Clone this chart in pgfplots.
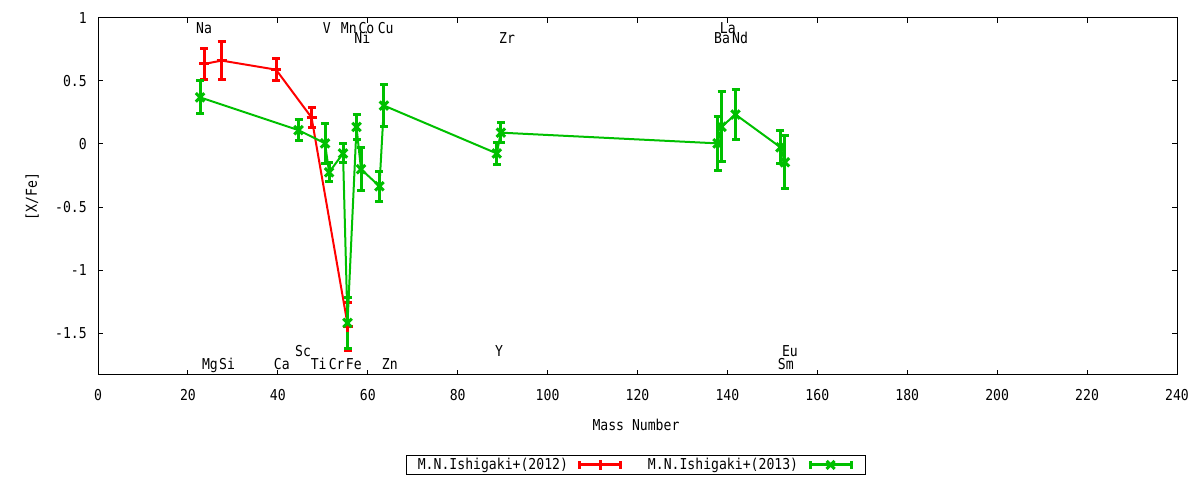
\documentclass[border=0pt]{standalone}
\usepackage{fontspec}
\setmainfont{DejaVu Sans Mono}[FakeStretch=0.875]
\usepackage{pgfplots}
\usepackage{pgfplotstable}
\pgfplotsset{compat=1.18}
\definecolor{gpred}{RGB}{255,0,0}
\definecolor{gpgreen}{RGB}{0,192,0}
\newcommand\gf{\fontsize{15bp}{17bp}\selectfont}

\pgfplotstableread{
x y e
23.6 0.635 0.12
27.5 0.662 0.15
39.6 0.59 0.085
47.5 0.21 0.08
55.6 -1.45 0.19
}\redtab

\pgfplotstableread{
x y e
22.7 0.37 0.13
44.6 0.11 0.085
50.5 0.005 0.16
51.4 -0.225 0.075
54.5 -0.075 0.075
55.5 -1.42 0.2
57.5 0.135 0.1
58.5 -0.2 0.17
62.6 -0.335 0.12
63.6 0.305 0.165
88.7 -0.075 0.09
89.6 0.09 0.08
137.8 0.005 0.217
138.7 0.137 0.278
141.8 0.234 0.2
151.8 -0.026 0.13
152.8 -0.145 0.21
}\greentab

\begin{document}
\begin{tikzpicture}
\useasboundingbox (0,0) rectangle (1200bp,480bp);
\begin{axis}[
  at={(98bp,105bp)}, anchor=south west,
  scale only axis, width=1079bp, height=357bp,
  xmin=0, xmax=240, ymin=-1.8333, ymax=1,
  xtick={0,20,40,60,80,100,120,140,160,180,200,220,240},
  xticklabels={0,20,40,60,80,100,120,140,160,180,200,220,240},
  ytick={-1.5,-1,-0.5,0,0.5,1},
  yticklabels={-1.5,-1,-0.5,0,0.5,1},
  tick align=inside, major tick length=5bp,
  axis line style={line width=1bp},
  tick style={line width=1bp, black},
  ticklabel style={font=\gf},
  xticklabel style={anchor=base, inner sep=0pt, yshift=-25.5bp},
  yticklabel style={anchor=east, inner sep=0pt, xshift=-11bp},
  xlabel={Mass Number}, ylabel={[X/Fe]},
  label style={font=\gf},
  xlabel style={at={(axis description cs:0.4986,-0.14)}, anchor=center},
  ylabel style={at={(axis description cs:-0.061,0.5)}, anchor=center},
  legend plot pos=right,
  legend columns=2,
  legend style={at={(0.4986,-0.252)}, anchor=center, draw=black, line width=1bp,
    font=\gf, inner xsep=11bp, inner ysep=3bp, column sep=9bp,
    nodes={inner sep=0pt},
    /tikz/every even column/.append style={column sep=24bp}},
]
\addplot[color=gpred, line width=2bp, mark=+, mark size=5bp,
  mark options={line width=3bp, solid},
  legend image code/.code={
    \draw[gpred, line width=3bp] (0bp,0bp) -- (44bp,0bp);
    \draw[gpred, line width=3bp] (1.5bp,-4bp) -- (1.5bp,4bp);
    \draw[gpred, line width=3bp] (42.5bp,-4bp) -- (42.5bp,4bp);
    \draw[gpred, line width=3bp] (22bp,-5bp) -- (22bp,5bp);
  },
  error bars/.cd, y dir=both, y explicit,
  error bar style={line width=3bp},
  error mark options={rotate=90, mark size=4bp, line width=3bp}]
  table[x=x, y=y, y error=e]{\redtab};
\addlegendentry{M.N.Ishigaki+(2012)}
\addplot[color=gpgreen, line width=2bp, mark=x, mark size=6bp,
  mark options={line width=3bp, solid},
  legend image code/.code={
    \draw[gpgreen, line width=3bp] (0bp,0bp) -- (44bp,0bp);
    \draw[gpgreen, line width=3bp] (1.5bp,-4bp) -- (1.5bp,4bp);
    \draw[gpgreen, line width=3bp] (42.5bp,-4bp) -- (42.5bp,4bp);
    \draw[gpgreen, line width=3bp] (18bp,-4bp) -- (26bp,4bp) (18bp,4bp) -- (26bp,-4bp);
  },
  error bars/.cd, y dir=both, y explicit,
  error bar style={line width=3bp},
  error mark options={rotate=90, mark size=4bp, line width=3bp}]
  table[x=x, y=y, y error=e]{\greentab};
\addlegendentry{M.N.Ishigaki+(2013)}

\tikzset{el/.style={font=\gf, inner sep=0pt, anchor=base}}
% top row
\node[el] at (axis cs:23.6,0.878) {Na};
\node[el] at (axis cs:50.9,0.878) {V};
\node[el] at (axis cs:55.8,0.878) {Mn};
\node[el] at (axis cs:59.7,0.878) {Co};
\node[el] at (axis cs:64.0,0.878) {Cu};
\node[el] at (axis cs:140.1,0.878) {La};
% second row
\node[el] at (axis cs:58.8,0.80) {Ni};
\node[el] at (axis cs:91.0,0.80) {Zr};
\node[el] at (axis cs:138.8,0.80) {Ba};
\node[el] at (axis cs:142.8,0.80) {Nd};
% bottom row
\node[el] at (axis cs:24.9,-1.787) {Mg};
\node[el] at (axis cs:28.7,-1.787) {Si};
\node[el] at (axis cs:40.9,-1.787) {Ca};
\node[el] at (axis cs:49.1,-1.787) {Ti};
\node[el] at (axis cs:53.1,-1.787) {Cr};
\node[el] at (axis cs:56.9,-1.787) {Fe};
\node[el] at (axis cs:64.9,-1.787) {Zn};
\node[el] at (axis cs:153.0,-1.787) {Sm};
% second bottom row
\node[el] at (axis cs:45.6,-1.683) {Sc};
\node[el] at (axis cs:89.2,-1.683) {Y};
\node[el] at (axis cs:153.9,-1.683) {Eu};
\end{axis}
\end{tikzpicture}
\end{document}
